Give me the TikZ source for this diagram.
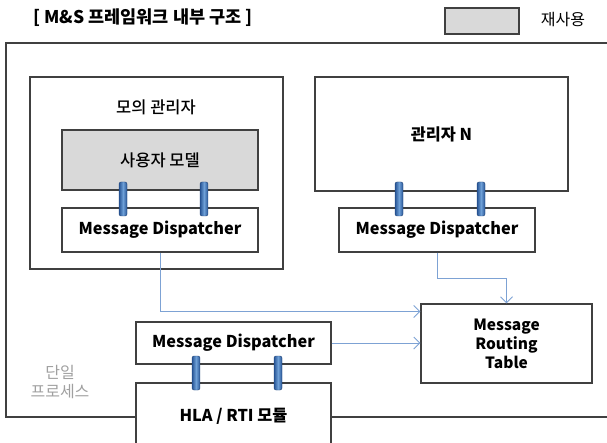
\documentclass[tikz,border=0pt]{standalone}
\usepackage{fontspec}
\setmainfont{Noto Sans CJK KR}
\newfontfamily\medfont{Noto Sans CJK KR Medium}
\usetikzlibrary{positioning,arrows.meta}
\definecolor{boxline}{RGB}{64,64,64}
\definecolor{reusefill}{RGB}{217,217,217}
\definecolor{plugdark}{RGB}{40,85,150}
\definecolor{pluglight}{RGB}{110,160,215}
\definecolor{flowcol}{RGB}{125,162,212}
\definecolor{proccol}{RGB}{160,160,160}

\begin{document}
\begin{tikzpicture}[
  x=1pt, y=-1pt,
  every node/.style={inner sep=0pt, align=center, text=black},
  box/.style={draw=boxline, line width=1.1pt, fill=white},
  reuse/.style={box, fill=reusefill},
  plain/.style={font=\fontsize{16.5}{19}\selectfont\medfont},
  bold/.style={font=\fontsize{16.3}{19}\selectfont\bfseries},
  plug/.style={draw=plugdark!80!black, line width=0.4pt, rounded corners=2pt,
    minimum width=8pt, minimum height=34pt,
    left color=plugdark, right color=plugdark, middle color=pluglight},
  flow/.style={draw=flowcol, line width=1pt,
    -{Straight Barb[length=6pt,width=12pt]}},
]
\useasboundingbox (0,0) rectangle (607,443);

% ---- Frame and legend ----
\node (proc)  at (309,230) [box, fill=none, minimum width=606, minimum height=374] {};
\node (title) at (143,18)  [font=\fontsize{17.5}{20}\selectfont\bfseries] {[ M\&S 프레임워크 내부 구조 ]};
\node (legend) at (482,21) [reuse, minimum width=74, minimum height=26] {};
\node (reuselbl) at (563,20) [font=\fontsize{16}{19}\selectfont] {재사용};
\node (single) at (60,382) [font=\fontsize{16}{19}\selectfont, text=proccol] {단일\\프로세스};

% ---- Managers ----
\node (mgr1)  at (156.5,173) [box, minimum width=253, minimum height=192] {};
\node (mgr1t) at (156,107)   [plain] {모의 관리자};
\node (model) at (160,160)   [reuse, plain, minimum width=196, minimum height=60] {사용자 모델};
\node (md1)   at (160,230)   [box, bold, minimum width=196, minimum height=44] {Message Dispatcher};

\node (mgrN)  at (441.5,134) [box, bold, minimum width=253, minimum height=114] {관리자 N};
\node (md2)   at (437,230)   [box, bold, minimum width=196, minimum height=44] {Message Dispatcher};

% ---- Routing and RTI ----
\node (mrt)   at (506.5,343.5) [box, font=\fontsize{15.5}{19}\selectfont\bfseries,
                                minimum width=171, minimum height=79] {Message\\Routing\\Table};
\node (hla)   at (233.5,416.5) [box, bold, minimum width=195, minimum height=67] {HLA / RTI 모듈};
\node (md3)   at (233.5,343)   [box, bold, minimum width=195, minimum height=42] {Message Dispatcher};

% ---- Plugs ----
\foreach \n/\x/\y in {pa/123/199, pb/204/199, pc/399/199, pd/481/199,
                      pe/196/373, pf/278/373}
  \node (\n) at (\x,\y) [plug] {};

% ---- Message flow ----
\draw[flow] (md1.south) |- ([yshift=32pt]mrt.west);
\draw[flow] (md2.south) -- ++(0,26) -| (mrt.north);
\draw[flow] (md3.east) -- (md3.east -| mrt.west);

\end{tikzpicture}
\end{document}
